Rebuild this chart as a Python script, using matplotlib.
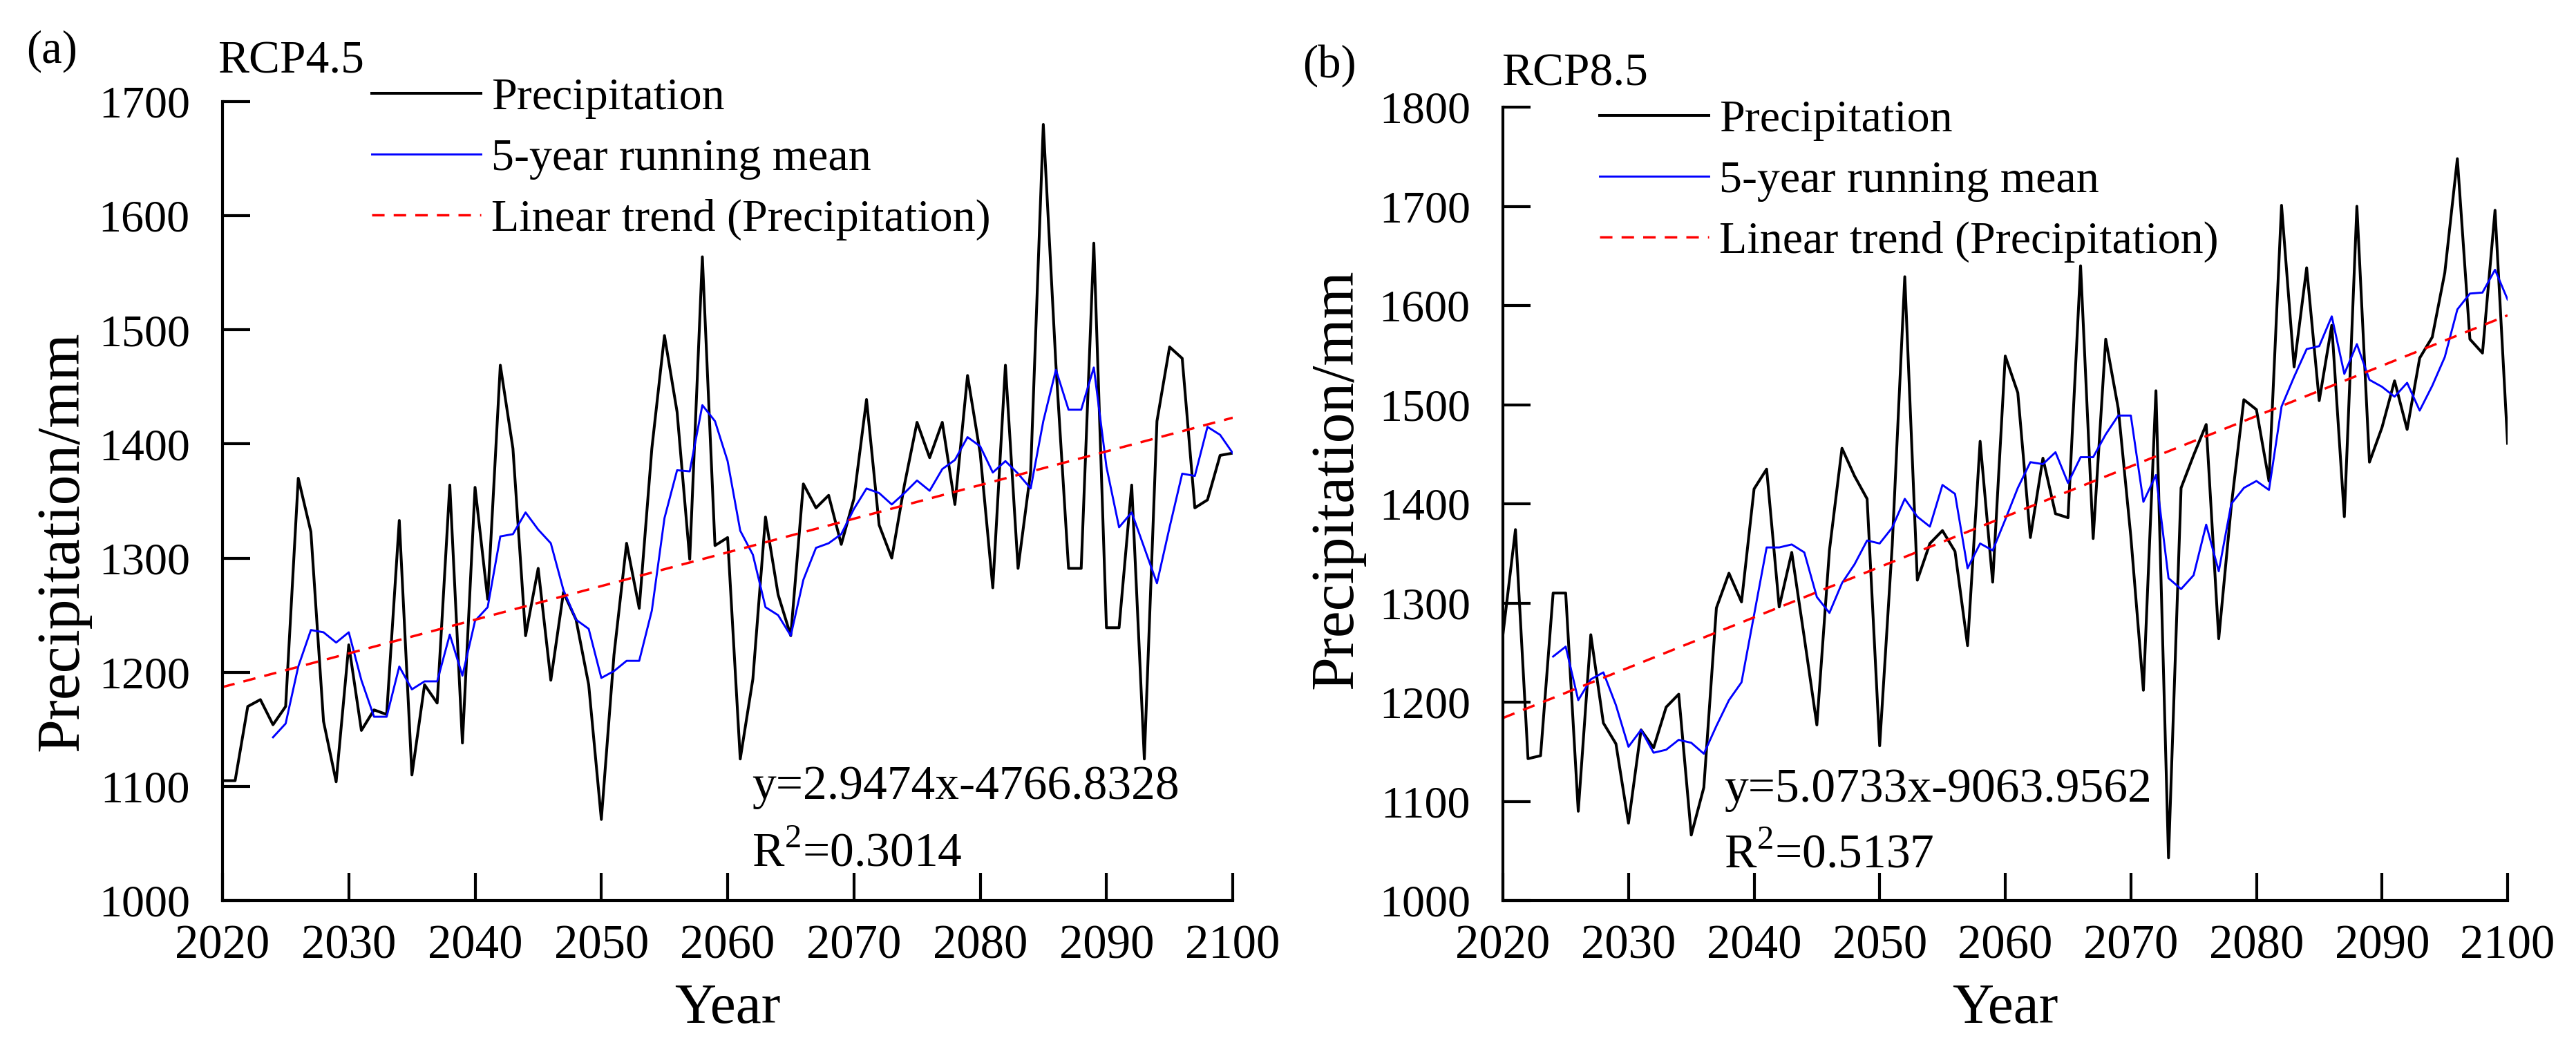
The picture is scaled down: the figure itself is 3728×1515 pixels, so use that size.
import numpy as np
import matplotlib
matplotlib.use("Agg")
import matplotlib.pyplot as plt

plt.rcParams['font.family'] = ['Liberation Serif', 'DejaVu Serif']
plt.rcParams['mathtext.fontset'] = 'custom'
plt.rcParams['mathtext.rm'] = 'Liberation Serif'

# Annual precipitation (mm), 2020-2100
years = np.arange(2020, 2101)

precip_45 = [1105, 1105, 1170, 1176, 1154, 1170, 1370, 1323, 1157, 1104,
             1224, 1149, 1167, 1163, 1333, 1110, 1189, 1173, 1364, 1138,
             1362, 1264, 1469, 1396, 1232, 1291, 1193, 1270, 1246, 1189,
             1071, 1215, 1313, 1256, 1396, 1495, 1428, 1299, 1564, 1311,
             1318, 1124, 1194, 1336, 1268, 1232, 1365, 1344, 1355, 1312,
             1352, 1439, 1329, 1300, 1364, 1419, 1388, 1419, 1347, 1460,
             1392, 1274, 1469, 1291, 1376, 1680, 1469, 1291, 1291, 1576,
             1239, 1239, 1364, 1124, 1420, 1485, 1475, 1344, 1351, 1390,
             1392]

precip_85 = [1268, 1374, 1143, 1146, 1310, 1310, 1090, 1268, 1179, 1158,
             1078, 1172, 1154, 1195, 1208, 1066, 1114, 1295, 1330, 1301,
             1415, 1435, 1296, 1351, 1265, 1177, 1353, 1456, 1428, 1405,
             1156, 1358, 1629, 1323, 1360, 1373, 1352, 1257, 1463, 1321,
             1549, 1512, 1366, 1446, 1390, 1386, 1640, 1365, 1566, 1496,
             1367, 1212, 1514, 1043, 1416, 1449, 1480, 1264, 1398, 1505,
             1495, 1423, 1701, 1538, 1638, 1504, 1580, 1387, 1700, 1442,
             1477, 1524, 1475, 1547, 1568, 1633, 1748, 1566, 1552, 1696,
             1461]

# 5-year running mean, plotted from 2024 on
mean_years = np.arange(2024, 2101)

mean_45 = [1143, 1155, 1205, 1237, 1235, 1226, 1235, 1193, 1161, 1161,
           1205, 1185, 1192, 1192, 1233, 1197, 1245, 1257, 1319, 1321,
           1340, 1325, 1313, 1272, 1246, 1238, 1195, 1201, 1210, 1210,
           1254, 1335, 1377, 1376, 1434, 1420, 1385, 1324, 1303, 1257,
           1250, 1232, 1281, 1309, 1313, 1321, 1343, 1361, 1357, 1347,
           1357, 1368, 1359, 1378, 1386, 1406, 1398, 1375, 1385, 1374,
           1361, 1420, 1465, 1430, 1430, 1467, 1380, 1327, 1340, 1309,
           1278, 1327, 1374, 1372, 1415, 1408, 1392]

mean_85 = [1246, 1256, 1202, 1223, 1230, 1197, 1155, 1172, 1149, 1152,
           1162, 1159, 1148, 1176, 1202, 1220, 1288, 1356, 1356, 1359,
           1351, 1306, 1290, 1320, 1339, 1363, 1360, 1376, 1405, 1387,
           1377, 1419, 1410, 1335, 1360, 1353, 1384, 1416, 1442, 1440,
           1452, 1421, 1447, 1447, 1470, 1489, 1489, 1402, 1429, 1325,
           1314, 1328, 1379, 1332, 1400, 1416, 1423, 1414, 1498, 1528,
           1556, 1559, 1589, 1531, 1561, 1525, 1518, 1508, 1522, 1494,
           1519, 1548, 1596, 1612, 1613, 1636, 1606]

# linear trend end points
trend_years = [2020, 2100]
trend_45 = [1187, 1423]
trend_85 = [1184, 1590]

eq_45 = "y=2.9474x-4766.8328"
r2_45 = "R$^{2}$=0.3014"
eq_85 = "y=5.0733x-9063.9562"
r2_85 = "R$^{2}$=0.5137"

W, H = 3728, 1515
fig = plt.figure(figsize=(W / 100, H / 100), dpi=100)


def px(x, y):
    return x / W, 1 - y / H


panels = [
    dict(rect=[322 / W, 212 / H, 1462 / W, 1156 / H], ylim=(1000, 1700),
         precip=precip_45, mean=mean_45, trend=trend_45,
         tag="(a)", tag_xy=(38, 74), scen="RCP4.5", scen_xy=(315, 106),
         leg_xy=(538, 112), eq=eq_45, r2=r2_45, eq_xy=(1088, 1156), r2_y=1253,
         ylab_xy=(-0.1436, 0.45)),
    dict(rect=[2175 / W, 212 / H, 1454 / W, 1148 / H], ylim=(1000, 1800),
         precip=precip_85, mean=mean_85, trend=trend_85,
         tag="(b)", tag_xy=(1885, 95), scen="RCP8.5", scen_xy=(2173, 123),
         leg_xy=(2315, 144), eq=eq_85, r2=r2_85, eq_xy=(2495, 1160), r2_y=1256,
         ylab_xy=(-0.150, 0.531)),
]

for p in panels:
    ax = fig.add_axes(p['rect'])
    ax.plot(years, p['precip'], color='black', lw=2.9, label='Precipitation')
    ax.plot(mean_years, p['mean'], color='#0000ff', lw=2.1, label='5-year running mean')
    ax.plot(trend_years, p['trend'], color='#ff0000', lw=2.5, dashes=(5.2, 3.8),
            label='Linear trend (Precipitation)')

    ax.set_xlim(2020, 2100)
    ax.set_ylim(*p['ylim'])
    ax.set_xticks(np.arange(2020, 2101, 10))
    ax.set_yticks(np.arange(p['ylim'][0], p['ylim'][1] + 1, 100))

    for s in ['top', 'right']:
        ax.spines[s].set_visible(False)
    for s in ['left', 'bottom']:
        ax.spines[s].set_linewidth(3)

    ax.tick_params(direction='in', length=29, width=3)
    ax.tick_params(axis='x', pad=25, labelsize=49.5)
    ax.tick_params(axis='y', pad=34, labelsize=47.5)

    ax.set_xlabel('Year', fontsize=60, va='baseline')
    ax.xaxis.set_label_coords(0.5, -177 / (p['rect'][3] * H))
    ax.set_ylabel('Precipitation/mm', fontsize=63, va='baseline')
    ax.yaxis.set_label_coords(*p['ylab_xy'])

    ax.legend(loc='upper left', bbox_to_anchor=px(*p['leg_xy']),
              bbox_transform=fig.transFigure, frameon=False, fontsize=47.5,
              borderpad=0, borderaxespad=0, handlelength=2.4,
              handletextpad=0.22, labelspacing=0.42)

    fig.text(*px(*p['tag_xy']), p['tag'], fontsize=48, ha='left', va='center')
    fig.text(*px(*p['scen_xy']), p['scen'], fontsize=48.5, ha='left', va='baseline')
    fig.text(*px(*p['eq_xy']), p['eq'], fontsize=50, ha='left', va='baseline')
    fig.text(*px(p['eq_xy'][0], p['r2_y']), p['r2'], fontsize=50, ha='left', va='baseline')

fig.savefig("out.png", dpi=100)
plt.close(fig)
